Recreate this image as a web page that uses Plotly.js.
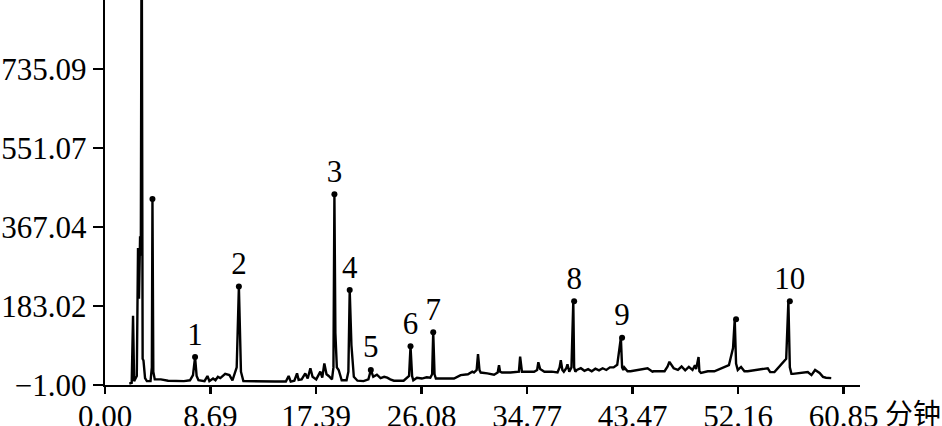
<!DOCTYPE html>
<html>
<head>
<meta charset="utf-8">
<script src="https://cdn.plot.ly/plotly-3.0.1.min.js"></script>
<style>html,body{margin:0;padding:0;background:#fff;}#chart{width:942px;height:426px;}</style>
</head>
<body>
<div id="chart"></div>
<script>
// Retention time (min) and detector response
const timeMin = [
  2.00, 2.20, 2.31, 2.40, 2.62, 2.72, 2.80, 2.89, 2.95, 3.02, 3.10, 3.17, 3.30, 3.45, 3.75, 3.86, 3.91, 3.98, 4.10,
  4.60, 5.20, 5.80, 6.50, 7.00, 7.25, 7.42, 7.55, 7.70, 8.20, 8.44, 8.60, 8.90, 9.10, 9.30, 9.50, 9.90, 10.25, 10.50,
  10.85, 11.03, 11.20, 11.40, 12.50, 14.00, 14.90, 15.13, 15.30, 15.60, 15.82, 15.95, 16.20, 16.50, 16.70, 16.92, 17.10,
  17.40, 17.74, 17.90, 18.07, 18.25, 18.43, 18.70, 18.82, 18.90, 18.98, 19.10, 19.25, 19.50, 19.90, 20.05, 20.16, 20.24,
  20.30, 20.50, 20.80, 21.30, 21.70, 21.90, 22.10, 22.40, 22.70, 23.00, 23.25, 23.50, 23.80, 24.60, 24.90, 25.05, 25.17,
  25.30, 25.40, 25.70, 26.10, 26.50, 26.80, 26.95, 27.04, 27.15, 27.26, 27.65, 28.75, 29.30, 29.90, 30.26, 30.40, 30.62,
  30.73, 30.85, 30.95, 31.50, 32.05, 32.35, 32.46, 32.55, 32.70, 33.40, 34.10, 34.20, 34.35, 35.00, 35.35, 35.60, 35.70,
  35.85, 36.20, 36.80, 37.28, 37.45, 37.55, 37.68, 37.80, 38.00, 38.10, 38.25, 38.43, 38.58, 38.65, 38.75, 38.87, 39.20,
  39.50, 39.80, 40.10, 40.40, 40.70, 41.00, 41.30, 41.60, 41.90, 42.20, 42.50, 42.60, 42.70, 42.78, 43.05, 43.30, 44.40,
  44.60, 44.70, 45.10, 45.20, 46.10, 46.35, 46.50, 46.85, 47.20, 47.50, 47.80, 48.10, 48.40, 48.60, 48.70, 48.90, 48.97,
  49.10, 49.66, 50.20, 51.40, 51.62, 51.74, 51.88, 51.99, 52.13, 52.40, 52.68, 52.95, 54.60, 54.80, 55.15, 56.12, 56.30,
  56.42, 56.55, 56.67, 57.90, 58.20, 58.50, 58.87, 59.15, 59.40, 59.83, 60.33
];
const response = [
  2, 4, 160, 8, 20, 318, 200, 345, 300, 1150, 60, 56, 15, 8, 8, 40, 432, 30, 12,
  12, 9, 9, 8, 10, 22, 64, 20, 10, 8, 20, 8, 14, 10, 18, 15, 25, 22, 10,
  40, 228, 30, 8, 7, 7, 7, 20, 7, 9, 26, 11, 12, 26, 14, 38, 18,
  12, 30, 16, 49, 24, 20, 12, 40, 443, 120, 40, 34, 10, 10, 30, 220, 120,
  92, 18, 9, 8, 12, 34, 18, 23, 15, 18, 16, 12, 9, 9, 16, 20, 89,
  20, 10, 16, 14, 17, 16, 24, 122, 24, 14, 14, 14, 22, 24, 30, 28, 34,
  71, 34, 28, 26, 23, 28, 45, 30, 28, 28, 30, 65, 30, 30, 30, 34, 52,
  36, 30, 30, 28, 40, 57, 34, 30, 38, 47, 30, 40, 194, 40, 30, 34,
  38, 32, 36, 31, 37, 33, 38, 34, 40, 40, 46, 109, 40, 34, 40, 31, 31,
  36, 38, 38, 30, 31, 31, 42, 53, 38, 34, 42, 33, 41, 34, 45, 36, 64,
  31, 27, 31, 31, 45, 75, 85, 152, 49, 34, 41, 31, 31, 38, 29, 29, 60,
  194, 40, 25, 25, 29, 22, 34, 27, 18, 16, 15
];
// Marked peaks (numbered compounds plus two unnumbered marked peaks)
const peakTimes = [3.91, 7.42, 11.03, 18.90, 20.16, 21.90, 25.17, 27.04, 38.65, 42.60, 51.99, 56.42];
const peakValues = [432, 64, 228, 443, 220, 34, 89, 122, 194, 109, 152, 194];
const peakLabels = ['', '1', '2', '3', '4', '5', '6', '7', '8', '9', '', '10'];
const xTickVals = [0, 8.69, 17.39, 26.08, 34.77, 43.47, 52.16, 60.85];
const xTickText = ['0.00', '8.69', '17.39', '26.08', '34.77', '43.47', '52.16', '60.85'];
const yTickVals = [-1.00, 183.02, 367.04, 551.07, 735.09];
const yTickText = ['\u22121.00', '183.02', '367.04', '551.07', '735.09'];
const xUnit = '分钟';

const serif = 'Liberation Serif, Times New Roman, serif';

const traces = [
  {
    x: timeMin, y: response, type: 'scatter', mode: 'lines',
    line: {color: '#000', width: 2.4}, hoverinfo: 'skip', showlegend: false
  },
  {
    x: peakTimes, y: peakValues, type: 'scatter', mode: 'markers+text',
    text: peakLabels, textposition: 'top center',
    textfont: {family: serif, size: 31, color: '#000'},
    marker: {color: '#000', size: 6, symbol: 'circle'},
    cliponaxis: false, showlegend: false, hoverinfo: 'skip'
  }
];

const layout = {
  width: 942, height: 426,
  margin: {l: 105, r: 82, t: 0, b: 41, pad: 0},
  paper_bgcolor: '#fff', plot_bgcolor: '#fff',
  showlegend: false,
  xaxis: {
    range: [0, 62.2], showgrid: false, zeroline: false,
    showline: true, linecolor: '#000', linewidth: 2.4,
    ticks: 'outside', ticklen: 7, tickwidth: 2.4, tickcolor: '#000',
    tickvals: xTickVals, ticktext: xTickText, ticklabelstandoff: -5,
    tickfont: {family: serif, size: 31, color: '#000'}
  },
  yaxis: {
    range: [-1, 895], showgrid: false, zeroline: false,
    showline: true, linecolor: '#000', linewidth: 2.4,
    ticks: 'outside', ticklen: 10, tickwidth: 2.4, tickcolor: '#000',
    tickvals: yTickVals, ticktext: yTickText,
    tickfont: {family: serif, size: 31, color: '#000'}
  },
  annotations: [{
    text: xUnit, xref: 'paper', yref: 'paper', x: 1.031, y: -0.07,
    xanchor: 'left', yanchor: 'middle', showarrow: false,
    font: {family: 'Noto Sans CJK SC', size: 28, color: '#000'}
  }]
};

Plotly.newPlot('chart', traces, layout, {displayModeBar: false, staticPlot: true});
</script>
</body>
</html>
